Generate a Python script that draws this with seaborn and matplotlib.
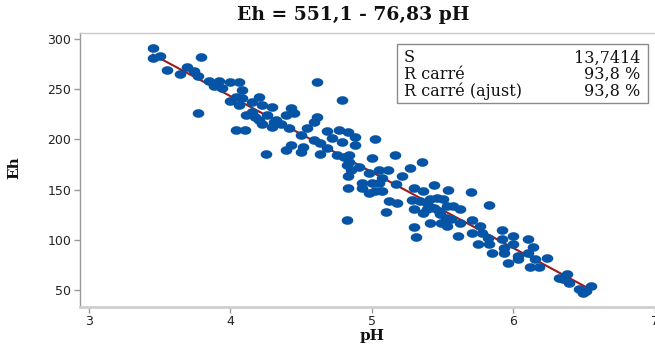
import numpy as np
import pandas as pd
import seaborn as sns
import matplotlib.pyplot as plt
from matplotlib.path import Path
from matplotlib.patches import Rectangle

# Data
ph = [3.45, 3.45, 3.50, 3.55, 3.64, 3.69, 3.74, 3.79, 3.77, 3.85, 3.92, 4.00, 4.06, 3.88, 3.94,
      4.08, 4.04, 4.08, 4.06, 4.15, 4.20, 3.77, 4.11, 4.17, 4.04, 4.10, 4.00,
      4.22, 4.29, 4.43, 4.15, 4.26, 4.39, 4.45, 4.61, 4.79, 4.61, 4.22, 4.31, 4.36, 4.59,
      4.29, 4.41, 4.54, 4.50, 4.68, 4.77, 4.83, 4.59, 4.72, 4.79, 4.43, 4.51, 4.25, 4.39,
      4.50, 4.63, 4.68, 4.75, 4.80, 4.82, 4.83, 4.20, 4.32, 4.63,
      4.88, 4.88, 5.02, 4.84, 4.84, 4.91, 4.85, 5.00, 5.16, 5.35, 4.98, 5.05, 5.11, 5.07,
      5.21, 5.27, 4.93, 4.83, 4.93, 5.00, 4.98, 5.07, 5.05, 5.17, 5.30, 5.36, 5.44, 5.54,
      5.12, 5.18, 5.28, 5.34, 5.41, 5.46, 5.50, 5.10, 5.30, 5.39, 5.47, 5.52, 4.82, 5.41,
      5.53, 5.30, 5.31, 5.02,
      5.70, 5.39, 5.44, 5.53, 5.57, 5.62, 5.36, 5.48, 5.49, 5.56, 5.83, 5.62, 5.71, 5.76,
      5.71, 5.61, 5.78, 5.92, 5.82, 5.75, 5.83, 5.92, 6.00, 6.10, 5.93, 6.00, 6.14, 5.85,
      5.93, 6.03, 6.10,
      5.96, 6.03, 6.24, 6.15, 6.12, 6.18, 6.32, 6.38, 6.39, 6.35, 6.46, 6.51, 6.55, 6.49]
eh = [291, 281, 283, 269, 265, 272, 268, 282, 263, 258, 258, 257, 257, 253, 251,
      249, 242, 241, 234, 237, 242, 226, 224, 222, 209, 209, 238,
      234, 232, 231, 227, 224, 224, 226, 257, 239, 222, 215, 217, 215, 217,
      212, 211, 211, 204, 208, 209, 207, 199, 201, 197, 194, 192, 185, 189,
      187, 185, 191, 184, 182, 174, 164, 219, 219, 196,
      202, 194, 200, 184, 177, 172, 169, 181, 184, 177, 167, 169, 169, 162,
      164, 171, 157, 152, 152, 157, 147, 149, 157, 156, 152, 149, 155, 150,
      139, 137, 140, 139, 141, 142, 141, 128, 131, 131, 129, 122, 120, 117,
      114, 113, 103, 149,
      148, 137, 132, 134, 134, 131, 127, 126, 117, 121, 135, 117, 120, 114,
      107, 104, 107, 110, 102, 96, 96, 101, 104, 101, 92, 96, 93, 87,
      87, 84, 87,
      77, 81, 82, 81, 73, 73, 62, 66, 57, 61, 51, 49, 54, 47]

xticks = [3, 4, 5, 6, 7]
yticks = [50, 100, 150, 200, 250, 300]
title = "Eh = 551,1 - 76,83 pH"
stat_labels = ["S", "R carré", "R carré (ajust)"]
stat_values = ["13,7414", "93,8 %", "93,8 %"]

df = pd.DataFrame({"pH": ph, "Eh": eh})

sns.set_theme(style="ticks")
plt.rcParams['font.family'] = ['DejaVu Sans']

fig = plt.figure(figsize=(6.55, 3.48), dpi=100)
ax = fig.add_axes([0.1214, 0.118, 0.8786, 0.787])

# fitted line under the points
sns.regplot(data=df, x="pH", y="Eh", scatter=False, ci=None, truncate=True,
            color="#9e1b1b", line_kws={"lw": 1.5, "zorder": 1}, ax=ax)

# points look like flat ellipses in the reference
t = np.linspace(0, 2 * np.pi, 60)
ellipse = Path(np.column_stack([1.35 * np.cos(t), np.sin(t)]), closed=True)
sns.scatterplot(data=df, x="pH", y="Eh", marker=ellipse, s=70, color="#0654a5",
                linewidth=0, ax=ax, zorder=2)

ax.set_xlim(2.933, 7.0)
ax.set_ylim(33, 306)
ax.set_xticks(xticks)
ax.set_yticks(yticks)
ax.tick_params(direction="out", length=4, width=1, color="#999999",
               labelsize=9, labelcolor="#222222", pad=2)
ax.set_xlabel("")
ax.set_ylabel("")

ax.spines["right"].set_visible(False)
ax.spines["top"].set_color("#c8c8c8")
ax.spines["top"].set_linewidth(1)
ax.spines["left"].set_color("#9a9a9a")
ax.spines["left"].set_linewidth(1)
ax.spines["bottom"].set_color("#cfcfcf")
ax.spines["bottom"].set_linewidth(2)

serif = ["DejaVu Serif"]
fig.text(353 / 655, 1 - 15 / 348, title, ha="center", va="center",
         family=serif, fontweight="bold", fontsize=13.5, color="#111111")
fig.text(372 / 655, 1 - 336 / 348, "pH", ha="center", va="center",
         family=serif, fontweight="bold", fontsize=11, color="#111111")
fig.text(14 / 655, 1 - 168 / 348, "Eh", ha="center", va="center", rotation=90,
         family=serif, fontweight="bold", fontsize=11, color="#111111")

# statistics box
box = Rectangle((397 / 655, 1 - 103 / 348), 251 / 655, 59 / 348,
                transform=fig.transFigure, facecolor="white",
                edgecolor="#8a8a8a", lw=1, zorder=5)
fig.add_artist(box)
row_y = [58, 74.5, 91]
for lab, val, y in zip(stat_labels, stat_values, row_y):
    fig.text(404 / 655, 1 - y / 348, lab, ha="left", va="center",
             family=serif, fontsize=11.5, color="#111111", zorder=6)
    fig.text(640 / 655, 1 - y / 348, val, ha="right", va="center",
             family=serif, fontsize=11.5, color="#111111", zorder=6)

fig.savefig("out.png", dpi=100)
